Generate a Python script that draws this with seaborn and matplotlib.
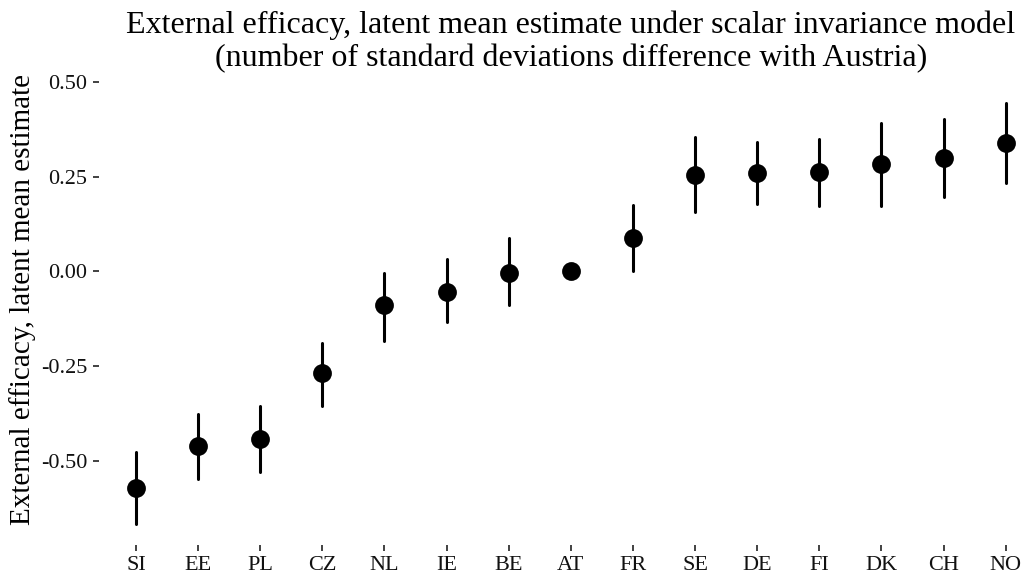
import numpy as np
import pandas as pd
import matplotlib
matplotlib.use("Agg")
import matplotlib.pyplot as plt
import seaborn as sns


# ==================================================
# DATA — latent mean estimates with 95% intervals
# ==================================================
countries = ["SI", "EE", "PL", "CZ", "NL", "IE", "BE", "AT",
             "FR", "SE", "DE", "FI", "DK", "CH", "NO"]
estimate = [-0.570, -0.460, -0.442, -0.268, -0.089, -0.053, -0.003, 0.000,
            0.089, 0.255, 0.260, 0.261, 0.282, 0.299, 0.338]
lower = [-0.666, -0.546, -0.528, -0.353, -0.182, -0.134, -0.089, 0.000,
         0.002, 0.157, 0.177, 0.172, 0.172, 0.195, 0.234]
upper = [-0.474, -0.374, -0.353, -0.187, -0.003, 0.032, 0.087, 0.000,
         0.174, 0.354, 0.342, 0.350, 0.390, 0.401, 0.443]

# long table: median of (lower, estimate, upper) = estimate,
# full percentile interval = (lower, upper)
long_df = pd.DataFrame({
    "country": countries * 3,
    "value": lower + estimate + upper,
})

# ==================================================
# FIGURE
# ==================================================
sns.set_style("white")
plt.rcParams["font.family"] = ["Liberation Serif", "DejaVu Serif"]
plt.rcParams["text.color"] = "black"

fig = plt.figure(figsize=(10.23, 5.79), dpi=100)
ax = fig.add_axes([0.0965, 0.0587, 0.923, 0.8005])

sns.pointplot(
    data=long_df, x="country", y="value", order=countries,
    estimator="median", errorbar=("pi", 100),
    color="black", linestyle="none", markers="o",
    markersize=11.5, err_kws={"linewidth": 2.2},
    ax=ax,
)

n = len(countries)
ax.set_xlim(-0.6, n - 1 + 0.6)
ax.set_ylim(-0.72, 0.50)
ax.set_yticks([-0.50, -0.25, 0.00, 0.25, 0.50])
ax.set_yticklabels(["-0.50", "-0.25", "0.00", "0.25", "0.50"])

for s in ax.spines.values():
    s.set_visible(False)
ax.grid(False)
ax.tick_params(axis="both", length=4, width=1.3, color="#333333",
               labelsize=16, labelcolor="#111111", pad=4,
               left=True, bottom=True)

ax.set_xlabel("")
ax.set_ylabel("External efficacy, latent mean estimate", fontsize=21,
              color="black")
ax.yaxis.set_label_coords(-0.066, 0.53)
ax.set_title("External efficacy, latent mean estimate under scalar invariance model\n"
             "(number of standard deviations difference with Austria)",
             fontsize=23, linespacing=1.2, pad=11, color="black")

fig.savefig("out.png", dpi=100)
